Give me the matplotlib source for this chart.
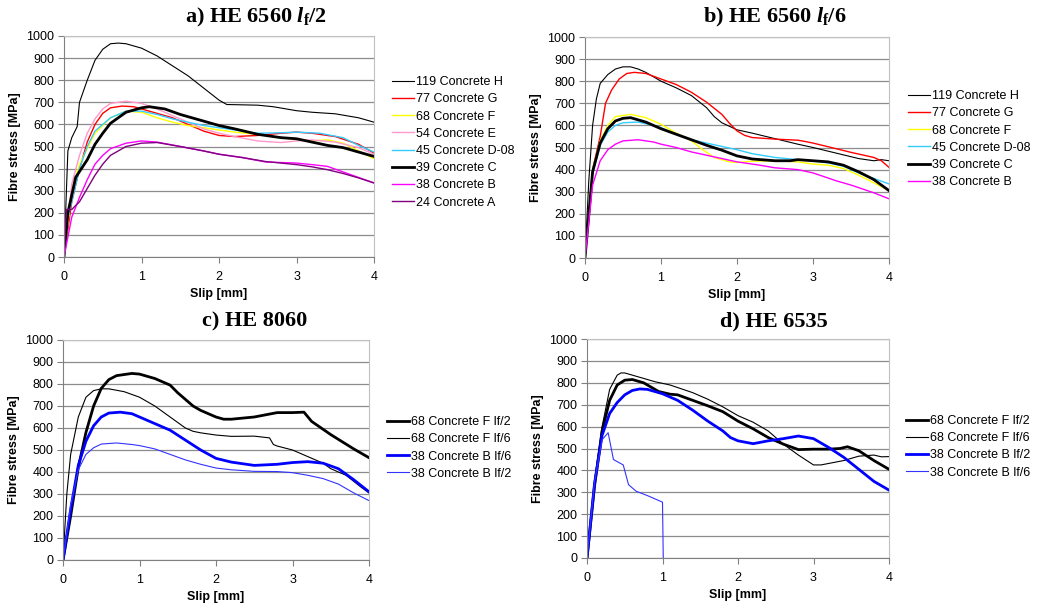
import numpy as np
import matplotlib.pyplot as plt

plt.rcParams['font.family'] = ['Liberation Sans', 'DejaVu Sans']
plt.rcParams['mathtext.fontset'] = 'custom'
plt.rcParams['mathtext.rm'] = 'Liberation Serif:bold'
plt.rcParams['mathtext.bf'] = 'Liberation Serif:bold'
plt.rcParams['mathtext.it'] = 'Liberation Serif:italic:bold'

W, H = 1038, 608

# ---- a) HE 6560 lf/2 ----
a_H_x = [0, 0.05, 0.1, 0.17, 0.2, 0.3, 0.4, 0.5, 0.6, 0.7, 0.8, 1.0, 1.2, 1.4, 1.6, 1.8, 2.0, 2.1, 2.5, 2.7, 3.0, 3.2, 3.5, 3.8, 4.0]
a_H_y = [0, 480, 540, 590, 700, 800, 890, 940, 965, 968, 965, 945, 910, 865, 820, 765, 710, 690, 687, 680, 662, 655, 648, 630, 610]
a_G_x = [0, 0.1, 0.2, 0.3, 0.4, 0.5, 0.6, 0.75, 0.9, 1.0, 1.2, 1.4, 1.6, 1.8, 2.0, 2.2, 2.5, 2.8, 3.0, 3.2, 3.5, 3.8, 4.0]
a_G_y = [0, 250, 400, 520, 600, 650, 675, 683, 680, 670, 650, 630, 600, 570, 550, 545, 550, 560, 565, 560, 545, 510, 470]
a_F_x = [0, 0.1, 0.2, 0.4, 0.6, 0.8, 1.0, 1.2, 1.4, 1.6, 1.8, 2.0, 2.2, 2.5, 2.8, 3.0, 3.2, 3.4, 3.6, 3.8, 4.0]
a_F_y = [0, 300, 420, 560, 630, 660, 655, 630, 610, 595, 585, 575, 565, 555, 540, 530, 525, 530, 515, 480, 445]
a_E_x = [0, 0.1, 0.2, 0.3, 0.4, 0.5, 0.6, 0.8, 1.0, 1.2, 1.4, 1.6, 1.8, 2.0, 2.2, 2.5, 2.8, 3.0, 3.2, 3.5, 3.8, 4.0]
a_E_y = [0, 330, 460, 560, 625, 670, 695, 705, 695, 670, 640, 610, 580, 560, 545, 525, 518, 525, 530, 520, 495, 465]
a_D_x = [0, 0.1, 0.2, 0.3, 0.4, 0.6, 0.8, 1.0, 1.2, 1.4, 1.6, 1.8, 2.0, 2.2, 2.5, 2.8, 3.0, 3.3, 3.6, 3.8, 4.0]
a_D_y = [110, 250, 400, 500, 570, 630, 660, 660, 645, 625, 610, 595, 585, 575, 560, 562, 565, 560, 540, 505, 475]
a_C_x = [0, 0.05, 0.15, 0.3, 0.4, 0.5, 0.6, 0.8, 1.0, 1.1, 1.3, 1.5, 1.7, 2.0, 2.2, 2.5, 2.8, 3.0, 3.2, 3.4, 3.6, 3.8, 4.0]
a_C_y = [0, 200, 360, 440, 510, 560, 605, 655, 675, 680, 670, 645, 625, 595, 580, 555, 540, 535, 520, 505, 495, 475, 455]
a_B_x = [0, 0.1, 0.2, 0.3, 0.4, 0.5, 0.6, 0.8, 1.0, 1.2, 1.5, 1.8, 2.0, 2.3, 2.6, 3.0, 3.2, 3.4, 3.6, 3.8, 4.0]
a_B_y = [0, 180, 270, 350, 420, 460, 490, 515, 525, 520, 500, 480, 465, 450, 430, 425, 418, 410, 385, 360, 335]
a_A_x = [0, 0.03, 0.1, 0.2, 0.3, 0.4, 0.5, 0.6, 0.8, 1.0, 1.2, 1.5, 1.8, 2.0, 2.3, 2.6, 3.0, 3.2, 3.4, 3.6, 3.8, 4.0]
a_A_y = [0, 215, 215, 250, 310, 370, 420, 460, 500, 515, 518, 500, 480, 465, 450, 432, 418, 408, 395, 378, 358, 335]

# ---- b) HE 6560 lf/6 ----
b_H_x = [0, 0.05, 0.1, 0.15, 0.2, 0.3, 0.4, 0.5, 0.6, 0.7, 0.8, 1.0, 1.2, 1.4, 1.6, 1.7, 1.8, 2.0, 2.2, 2.5, 2.8, 3.0, 3.3, 3.6, 3.8, 3.9, 4.0]
b_H_y = [0, 350, 600, 720, 790, 830, 855, 865, 865, 855, 840, 800, 770, 735, 680, 640, 612, 580, 565, 540, 515, 500, 475, 450, 440, 445, 440]
b_G_x = [0, 0.1, 0.2, 0.27, 0.35, 0.45, 0.55, 0.65, 0.8, 1.0, 1.2, 1.4, 1.6, 1.8, 1.9, 2.0, 2.1, 2.2, 2.5, 2.8, 2.9, 3.0, 3.3, 3.5, 3.8, 3.9, 4.0]
b_G_y = [0, 400, 550, 700, 760, 810, 835, 840, 835, 810, 785, 750, 705, 650, 610, 575, 555, 545, 538, 533, 527, 520, 495, 478, 455, 440, 410]
b_F_x = [0, 0.1, 0.2, 0.3, 0.4, 0.6, 0.8, 1.0, 1.2, 1.4, 1.55, 1.7, 1.9, 2.0, 2.2, 2.5, 2.8, 3.0, 3.2, 3.4, 3.6, 3.8, 4.0]
b_F_y = [0, 400, 530, 600, 640, 650, 635, 605, 565, 530, 490, 455, 435, 432, 438, 440, 435, 425, 420, 405, 375, 340, 305]
b_D_x = [0, 0.1, 0.2, 0.3, 0.4, 0.5, 0.7, 0.9, 1.0, 1.2, 1.4, 1.6, 1.8, 2.0, 2.2, 2.5, 2.8, 3.0, 3.2, 3.4, 3.6, 3.8, 4.0]
b_D_y = [0, 380, 510, 570, 600, 612, 615, 600, 590, 560, 535, 520, 505, 490, 472, 455, 445, 440, 430, 415, 385, 360, 335]
b_C_x = [0, 0.1, 0.2, 0.3, 0.4, 0.5, 0.6, 0.8, 1.0, 1.2, 1.4, 1.6, 1.8, 2.0, 2.2, 2.5, 2.7, 2.8, 3.0, 3.2, 3.4, 3.6, 3.8, 4.0]
b_C_y = [0, 390, 520, 585, 620, 632, 635, 615, 585, 560, 535, 510, 488, 462, 448, 440, 440, 445, 440, 435, 420, 390, 355, 305]
b_B_x = [0, 0.1, 0.2, 0.3, 0.4, 0.5, 0.7, 0.9, 1.0, 1.2, 1.4, 1.6, 1.8, 2.0, 2.3, 2.5, 2.8, 3.0, 3.3, 3.5, 3.8, 4.0]
b_B_y = [0, 330, 440, 490, 515, 530, 535, 525, 515, 500, 480, 465, 450, 435, 420, 408, 400, 385, 350, 330, 295, 268]

# ---- c) HE 8060 ----
c_F2_x = [0, 0.1, 0.2, 0.3, 0.4, 0.5, 0.6, 0.7, 0.8, 0.9, 1.0, 1.2, 1.4, 1.5, 1.6, 1.7, 1.8, 2.0, 2.1, 2.2, 2.5, 2.8, 3.0, 3.15, 3.25, 3.5, 3.8, 4.0]
c_F2_y = [0, 200, 420, 580, 700, 780, 820, 838, 843, 848, 845, 825, 795, 760, 730, 700, 680, 650, 640, 640, 650, 670, 670, 672, 630, 570, 505, 465]
c_F6_x = [0, 0.05, 0.1, 0.2, 0.3, 0.4, 0.5, 0.6, 0.8, 1.0, 1.2, 1.4, 1.6, 1.7, 1.8, 2.0, 2.2, 2.5, 2.7, 2.75, 2.8, 3.0, 3.2, 3.4, 3.5, 3.7, 3.9, 4.0]
c_F6_y = [0, 300, 480, 650, 740, 770, 778, 778, 765, 740, 700, 650, 600, 585, 578, 568, 562, 563, 555, 525, 518, 500, 470, 440, 415, 385, 330, 305]
c_B6_x = [0, 0.1, 0.2, 0.3, 0.4, 0.5, 0.6, 0.75, 0.9, 1.0, 1.2, 1.4, 1.6, 1.8, 2.0, 2.2, 2.5, 2.8, 3.0, 3.2, 3.4, 3.6, 3.8, 4.0]
c_B6_y = [0, 230, 430, 540, 610, 650, 668, 672, 665, 650, 620, 590, 545, 500, 462, 445, 430, 435, 443, 447, 440, 415, 365, 310]
c_B2_x = [0, 0.1, 0.2, 0.3, 0.4, 0.5, 0.7, 0.9, 1.0, 1.2, 1.4, 1.6, 1.8, 2.0, 2.2, 2.5, 2.8, 3.0, 3.2, 3.4, 3.6, 3.8, 4.0]
c_B2_y = [0, 250, 410, 480, 510, 527, 532, 525, 520, 505, 480, 455, 435, 418, 410, 403, 402, 397, 385, 370, 345, 305, 270]

# ---- d) HE 6535 ----
d_F2_x = [0, 0.1, 0.2, 0.3, 0.4, 0.5, 0.6, 0.75, 0.85, 0.95, 1.1, 1.2, 1.4, 1.6, 1.8, 2.0, 2.2, 2.4, 2.6, 2.8, 3.0, 3.2, 3.35, 3.45, 3.6, 3.8, 4.0]
d_F2_y = [0, 330, 580, 720, 790, 812, 815, 800, 780, 760, 748, 745, 720, 695, 668, 625, 590, 550, 520, 495, 497, 497, 500, 508, 490, 445, 405]
d_F6_x = [0, 0.1, 0.2, 0.3, 0.4, 0.45, 0.5, 0.7, 0.9, 1.1, 1.4, 1.6, 1.8, 2.0, 2.2, 2.4, 2.6, 2.8, 3.0, 3.1, 3.4, 3.6, 3.8, 3.9, 4.0]
d_F6_y = [0, 350, 600, 770, 835, 845, 845, 825, 805, 790, 755, 725, 690, 650, 620, 580, 520, 470, 425, 425, 445, 465, 470, 462, 463]
d_B2_x = [0, 0.1, 0.2, 0.3, 0.4, 0.5, 0.6, 0.7, 0.8, 1.0, 1.2, 1.4, 1.6, 1.8, 1.9, 2.0, 2.2, 2.4, 2.6, 2.8, 3.0, 3.2, 3.4, 3.6, 3.8, 4.0]
d_B2_y = [0, 340, 560, 660, 710, 745, 765, 772, 770, 750, 720, 675, 625, 580, 550, 535, 522, 535, 545, 557, 545, 505, 460, 405, 350, 310]
d_B6_x = [0, 0.1, 0.2, 0.28, 0.35, 0.4, 0.48, 0.55, 0.65, 0.8, 0.9, 1.0, 1.01]
d_B6_y = [0, 350, 540, 572, 450, 440, 425, 335, 305, 285, 270, 255, 0]

# axes boxes in pixels: left, right, top, bottom
boxes = {'a': (64, 374, 36, 257), 'b': (585, 889, 37, 258),
         'c': (63, 369, 340, 560), 'd': (587, 889, 339, 558)}

fig = plt.figure(figsize=(W / 100, H / 100), dpi=100)


def make_axes(key):
    l, r, t, b = boxes[key]
    ax = fig.add_axes([l / W, 1 - b / H, (r - l) / W, (b - t) / H])
    ax.set_xlim(0, 4)
    ax.set_ylim(0, 1000)
    ax.set_xticks(range(5))
    ax.set_yticks(range(0, 1001, 100))
    ax.grid(True, axis='y', color='#8c8c8c', lw=0.9)
    ax.set_axisbelow(True)
    for s in ['left', 'bottom']:
        ax.spines[s].set_color('#808080')
    for s in ['top', 'right']:
        ax.spines[s].set_color('#c0c0c0')
    ax.tick_params(labelsize=9, length=4, color='#808080', pad=3)
    ax.tick_params(axis='x', pad=6)
    ax.set_xlabel('Slip [mm]', fontsize=9, fontweight='bold', labelpad=4)
    ax.set_ylabel('Fibre stress [MPa]', fontsize=9, fontweight='bold', labelpad=4)
    return ax


def add_legend(ax, x_px, y_px):
    ax.legend(loc='upper left', bbox_to_anchor=(x_px / W, 1 - y_px / H),
              bbox_transform=fig.transFigure, frameon=False, fontsize=9,
              handlelength=1.75, handletextpad=0.15, labelspacing=0.42,
              borderpad=0, borderaxespad=0)


ax = make_axes('a')
ax.plot(a_H_x, a_H_y, color='black', lw=0.8, label='119 Concrete H')
ax.plot(a_G_x, a_G_y, color='#ff0000', lw=1.0, label='77 Concrete G')
ax.plot(a_F_x, a_F_y, color='#ffff00', lw=1.0, label='68 Concrete F')
ax.plot(a_E_x, a_E_y, color='#ff99cc', lw=1.0, label='54 Concrete E')
ax.plot(a_D_x, a_D_y, color='#33ccff', lw=1.0, label='45 Concrete D-08')
ax.plot(a_C_x, a_C_y, color='black', lw=2.0, label='39 Concrete C')
ax.plot(a_B_x, a_B_y, color='#ff00ff', lw=1.0, label='38 Concrete B')
ax.plot(a_A_x, a_A_y, color='#800080', lw=1.0, label='24 Concrete A')
add_legend(ax, 392, 76)

ax = make_axes('b')
ax.plot(b_H_x, b_H_y, color='black', lw=0.8, label='119 Concrete H')
ax.plot(b_G_x, b_G_y, color='#ff0000', lw=1.0, label='77 Concrete G')
ax.plot(b_F_x, b_F_y, color='#ffff00', lw=1.0, label='68 Concrete F')
ax.plot(b_D_x, b_D_y, color='#33ccff', lw=1.0, label='45 Concrete D-08')
ax.plot(b_C_x, b_C_y, color='black', lw=2.0, label='39 Concrete C')
ax.plot(b_B_x, b_B_y, color='#ff00ff', lw=1.0, label='38 Concrete B')
add_legend(ax, 908, 90)

ax = make_axes('c')
ax.plot(c_F2_x, c_F2_y, color='black', lw=2.0, label='68 Concrete F lf/2')
ax.plot(c_F6_x, c_F6_y, color='black', lw=0.8, label='68 Concrete F lf/6')
ax.plot(c_B6_x, c_B6_y, color='#0000ff', lw=2.0, label='38 Concrete B lf/6')
ax.plot(c_B2_x, c_B2_y, color='#3333ff', lw=0.8, label='38 Concrete B lf/2')
add_legend(ax, 387, 416)

ax = make_axes('d')
ax.plot(d_F2_x, d_F2_y, color='black', lw=2.0, label='68 Concrete F lf/2')
ax.plot(d_F6_x, d_F6_y, color='black', lw=0.8, label='68 Concrete F lf/6')
ax.plot(d_B2_x, d_B2_y, color='#0000ff', lw=2.0, label='38 Concrete B lf/2')
ax.plot(d_B6_x, d_B6_y, color='#3333ff', lw=0.8, label='38 Concrete B lf/6')
add_legend(ax, 906, 415)

title_kw = dict(fontsize=16, fontweight='bold', family='Liberation Serif',
                ha='center', va='center')
fig.text(256 / W, 1 - 17 / H, r'a) HE 6560 $\mathit{l}_\mathbf{f}$/2', **title_kw)
fig.text(775 / W, 1 - 17 / H, r'b) HE 6560 $\mathit{l}_\mathbf{f}$/6', **title_kw)
fig.text(255 / W, 1 - 321 / H, 'c) HE 8060', **title_kw)
fig.text(774 / W, 1 - 321 / H, 'd) HE 6535', **title_kw)

fig.savefig('out.png', dpi=100)
